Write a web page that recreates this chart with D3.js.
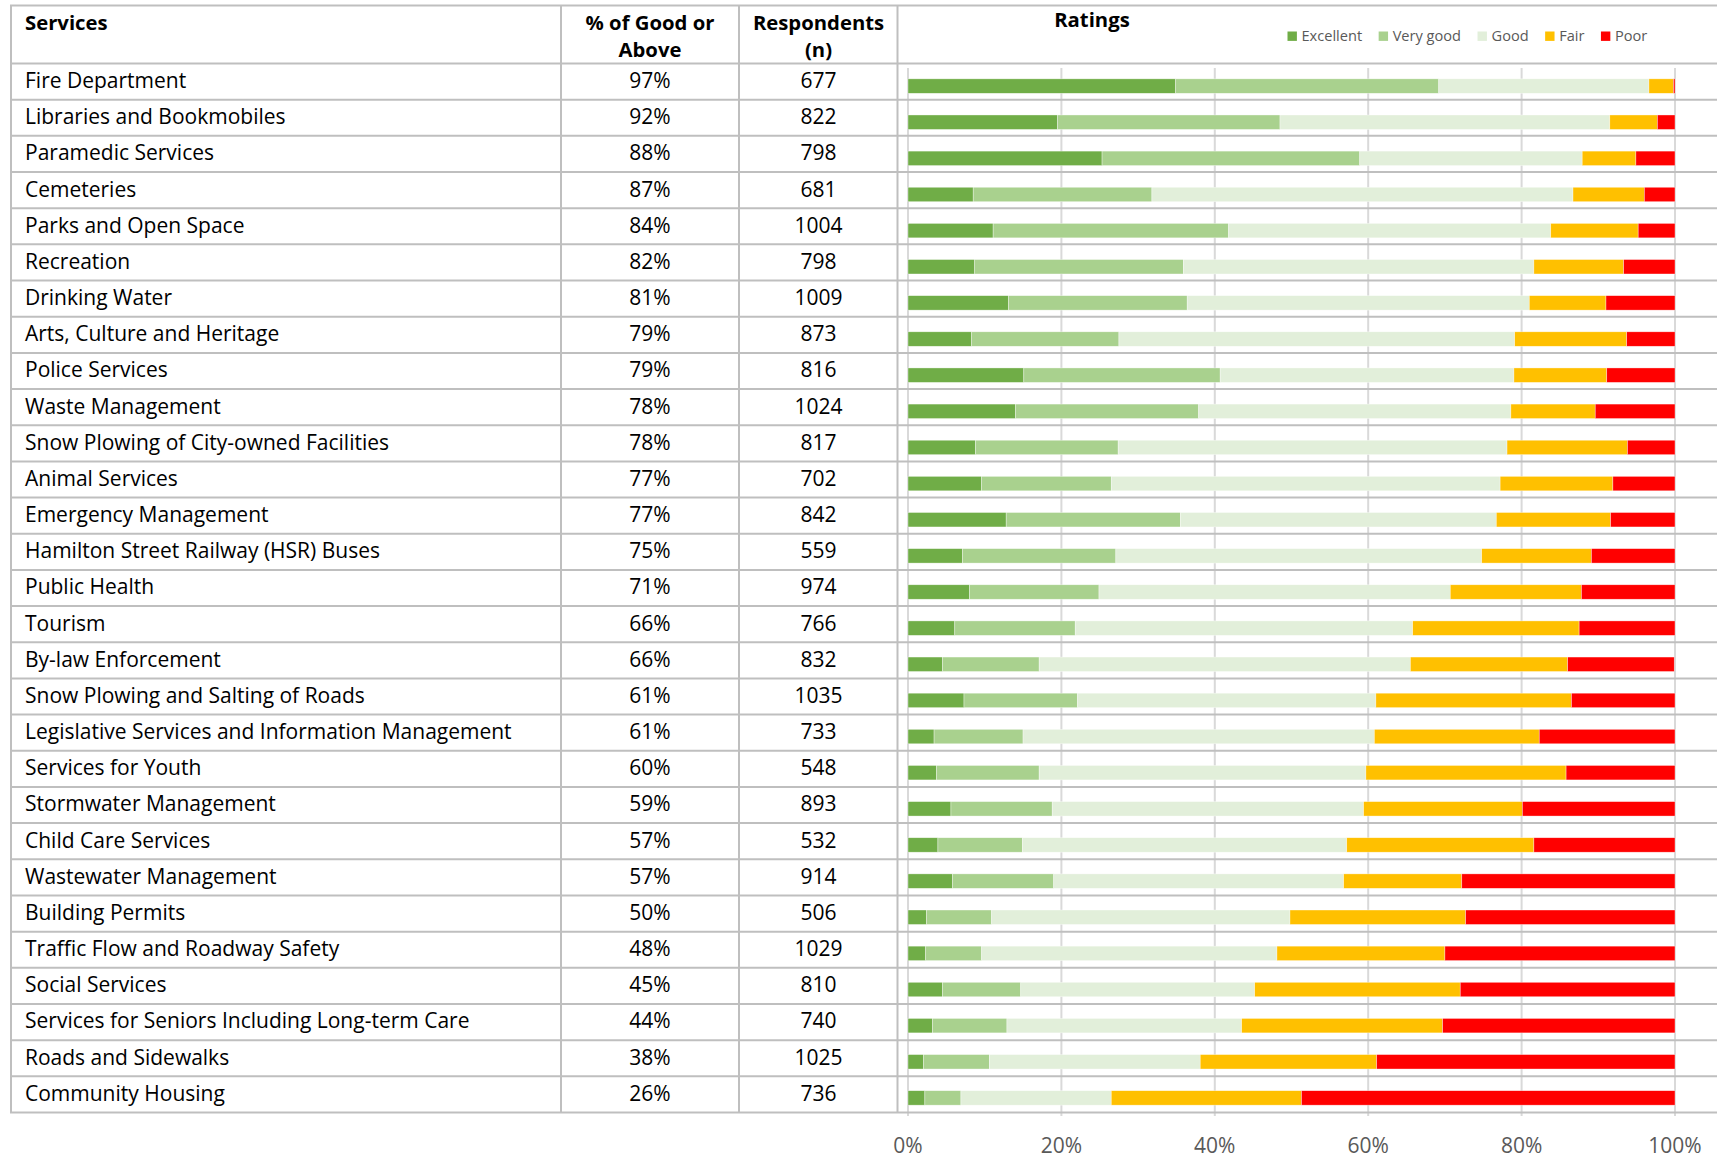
<!DOCTYPE html>
<html>
<head>
<meta charset="utf-8">
<script src="https://cdn.jsdelivr.net/npm/d3@7"></script>
<style>
  html, body { margin: 0; padding: 0; background: #fff; }
  svg { display: block; }
  text { font-family: "Open Sans", "Noto Sans", sans-serif; }
</style>
</head>
<body>
<svg id="chart" width="1717" height="1159"></svg>
<script>
// ---------------- DATA ----------------
const services = [
  "Fire Department", "Libraries and Bookmobiles", "Paramedic Services", "Cemeteries",
  "Parks and Open Space", "Recreation", "Drinking Water", "Arts, Culture and Heritage",
  "Police Services", "Waste Management", "Snow Plowing of City-owned Facilities",
  "Animal Services", "Emergency Management", "Hamilton Street Railway (HSR) Buses",
  "Public Health", "Tourism", "By-law Enforcement", "Snow Plowing and Salting of Roads",
  "Legislative Services and Information Management", "Services for Youth",
  "Stormwater Management", "Child Care Services", "Wastewater Management",
  "Building Permits", "Traffic Flow and Roadway Safety", "Social Services",
  "Services for Seniors Including Long-term Care", "Roads and Sidewalks", "Community Housing"
];
const pctGoodOrAbove = ["97%","92%","88%","87%","84%","82%","81%","79%","79%","78%","78%","77%","77%","75%","71%","66%","66%","61%","61%","60%","59%","57%","57%","50%","48%","45%","44%","38%","26%"];
const respondents = [677,822,798,681,1004,798,1009,873,816,1024,817,702,842,559,974,766,832,1035,733,548,893,532,914,506,1029,810,740,1025,736];

const excellent = [34.9,19.5,25.3,8.5,11.1,8.7,13.1,8.3,15.1,14.0,8.8,9.6,12.8,7.1,8.0,6.1,4.5,7.3,3.4,3.7,5.6,3.9,5.8,2.4,2.3,4.5,3.2,2.0,2.2];
const veryGood  = [34.3,29.0,33.6,23.3,30.7,27.2,23.3,19.2,25.6,23.9,18.6,16.9,22.7,20.0,16.9,15.7,12.6,14.8,11.6,13.4,13.2,11.0,13.2,8.5,7.3,10.2,9.7,8.6,4.7];
const good      = [27.4,43.0,29.0,54.9,42.0,45.7,44.6,51.6,38.3,40.7,50.7,50.7,41.2,47.7,45.8,44.0,48.4,38.9,45.8,42.6,40.6,42.3,37.8,38.9,38.5,30.5,30.6,27.5,19.6];
const fair      = [3.2,6.2,7.0,9.3,11.4,11.7,10.0,14.6,12.1,11.0,15.7,14.7,14.9,14.3,17.1,21.7,20.5,25.5,21.5,26.1,20.7,24.4,15.4,22.9,21.9,26.8,26.2,23.0,24.8];
const poor      = [0.2,2.3,5.1,4.0,4.8,6.7,9.0,6.3,8.9,10.4,6.2,8.1,8.4,10.9,12.2,12.5,13.9,13.5,17.7,14.2,19.9,18.4,27.8,27.3,30.0,28.0,30.3,38.9,48.7];

const ratingKeys   = ["Excellent", "Very good", "Good", "Fair", "Poor"];
const ratingColors = ["#70AD47", "#A9D18E", "#E2EFDA", "#FFC000", "#FF0000"];
const axisTicks    = [0, 20, 40, 60, 80, 100];

// ---------------- BUILD ----------------
const rows = services.map((s, i) => ({
  service: s,
  "Excellent": excellent[i], "Very good": veryGood[i], "Good": good[i],
  "Fair": fair[i], "Poor": poor[i]
}));

const svg = d3.select("#chart");
svg.append("rect").attr("width", 1717).attr("height", 1159).attr("fill", "#fff");

const W = 1717;
const tableLeft = 11, tableTop = 5.5, headerBottom = 63.5, tableBottom = 1112.5;
const colDiv = [561, 739, 897.5];
const FS = 21;
const FSH = 20.3;

// Table row scale
const yRow = d3.scaleBand().domain(services).range([headerBottom, tableBottom]).padding(0);
// Chart scales
const x = d3.scaleLinear().domain([0, 100]).range([908, 1675]);
const yBar = d3.scaleBand().domain(services).range([68, 1116]).paddingInner(0.6).paddingOuter(0.3);
const color = d3.scaleOrdinal().domain(ratingKeys).range(ratingColors);

// Gridlines
svg.append("g").selectAll("line").data(axisTicks).join("line")
  .attr("x1", d => x(d)).attr("x2", d => x(d))
  .attr("y1", 68).attr("y2", 1116)
  .attr("stroke", "#d9d9d9").attr("stroke-width", 2);

// Bars
const stack = d3.stack().keys(ratingKeys);
const series = stack(rows);
svg.append("g").selectAll("g").data(series).join("g")
  .attr("fill", d => color(d.key))
  .selectAll("rect").data(d => d).join("rect")
  .attr("x", d => x(d[0]))
  .attr("width", d => Math.max(0, x(d[1]) - x(d[0])))
  .attr("y", d => yBar(d.data.service))
  .attr("height", yBar.bandwidth())
  .attr("stroke", "#ffffff").attr("stroke-width", 0.6).attr("stroke-opacity", 0.6);

// Table lines
const lines = svg.append("g").attr("stroke", "#bfbfbf").attr("stroke-width", 2);
const hLines = [tableTop, headerBottom].concat(services.map(s => yRow(s) + yRow.bandwidth()));
lines.selectAll("line.h").data(hLines).join("line").attr("class", "h")
  .attr("x1", tableLeft - 1).attr("x2", W)
  .attr("y1", d => d).attr("y2", d => d);
lines.selectAll("line.v").data([tableLeft].concat(colDiv)).join("line").attr("class", "v")
  .attr("x1", d => d).attr("x2", d => d)
  .attr("y1", tableTop).attr("y2", tableBottom);

// Header text
const hdr = svg.append("g").attr("font-weight", "bold").attr("font-size", FSH).attr("fill", "#000");
hdr.append("text").attr("x", 25).attr("y", 30).text("Services");
hdr.append("text").attr("x", 650).attr("y", 30).attr("text-anchor", "middle").text("% of Good or");
hdr.append("text").attr("x", 650).attr("y", 57).attr("text-anchor", "middle").text("Above");
hdr.append("text").attr("x", 818.5).attr("y", 30).attr("text-anchor", "middle").text("Respondents");
hdr.append("text").attr("x", 818.5).attr("y", 57).attr("text-anchor", "middle").text("(n)");
hdr.append("text").attr("x", 1092).attr("y", 27).attr("text-anchor", "middle").text("Ratings");

// Row text
const body = svg.append("g").attr("font-size", FS).attr("fill", "#000");
const baseOff = 24.5;
body.selectAll("text.svc").data(services).join("text").attr("class", "svc")
  .attr("x", 25).attr("y", d => yRow(d) + baseOff).text(d => d);
body.selectAll("text.pct").data(services).join("text").attr("class", "pct")
  .attr("x", 650).attr("text-anchor", "middle")
  .attr("y", d => yRow(d) + baseOff).text((d, i) => pctGoodOrAbove[i]);
body.selectAll("text.n").data(services).join("text").attr("class", "n")
  .attr("x", 818.5).attr("text-anchor", "middle")
  .attr("y", d => yRow(d) + baseOff).text((d, i) => respondents[i]);

// Axis labels
svg.append("g").attr("font-size", FS).attr("fill", "#595959")
  .selectAll("text").data(axisTicks).join("text")
  .attr("x", d => x(d)).attr("y", 1153).attr("text-anchor", "middle")
  .text(d => d + "%");

// Legend
const legend = svg.append("g").attr("font-size", 14.6).attr("fill", "#595959");
let lx = 1287.5;
ratingKeys.forEach(k => {
  legend.append("rect").attr("x", lx).attr("y", 31.5).attr("width", 9.4).attr("height", 9.4).attr("fill", color(k));
  const t = legend.append("text").attr("x", lx + 14).attr("y", 40.7).text(k);
  lx += 14 + t.node().getComputedTextLength() + 16.5;
});
</script>
</body>
</html>
